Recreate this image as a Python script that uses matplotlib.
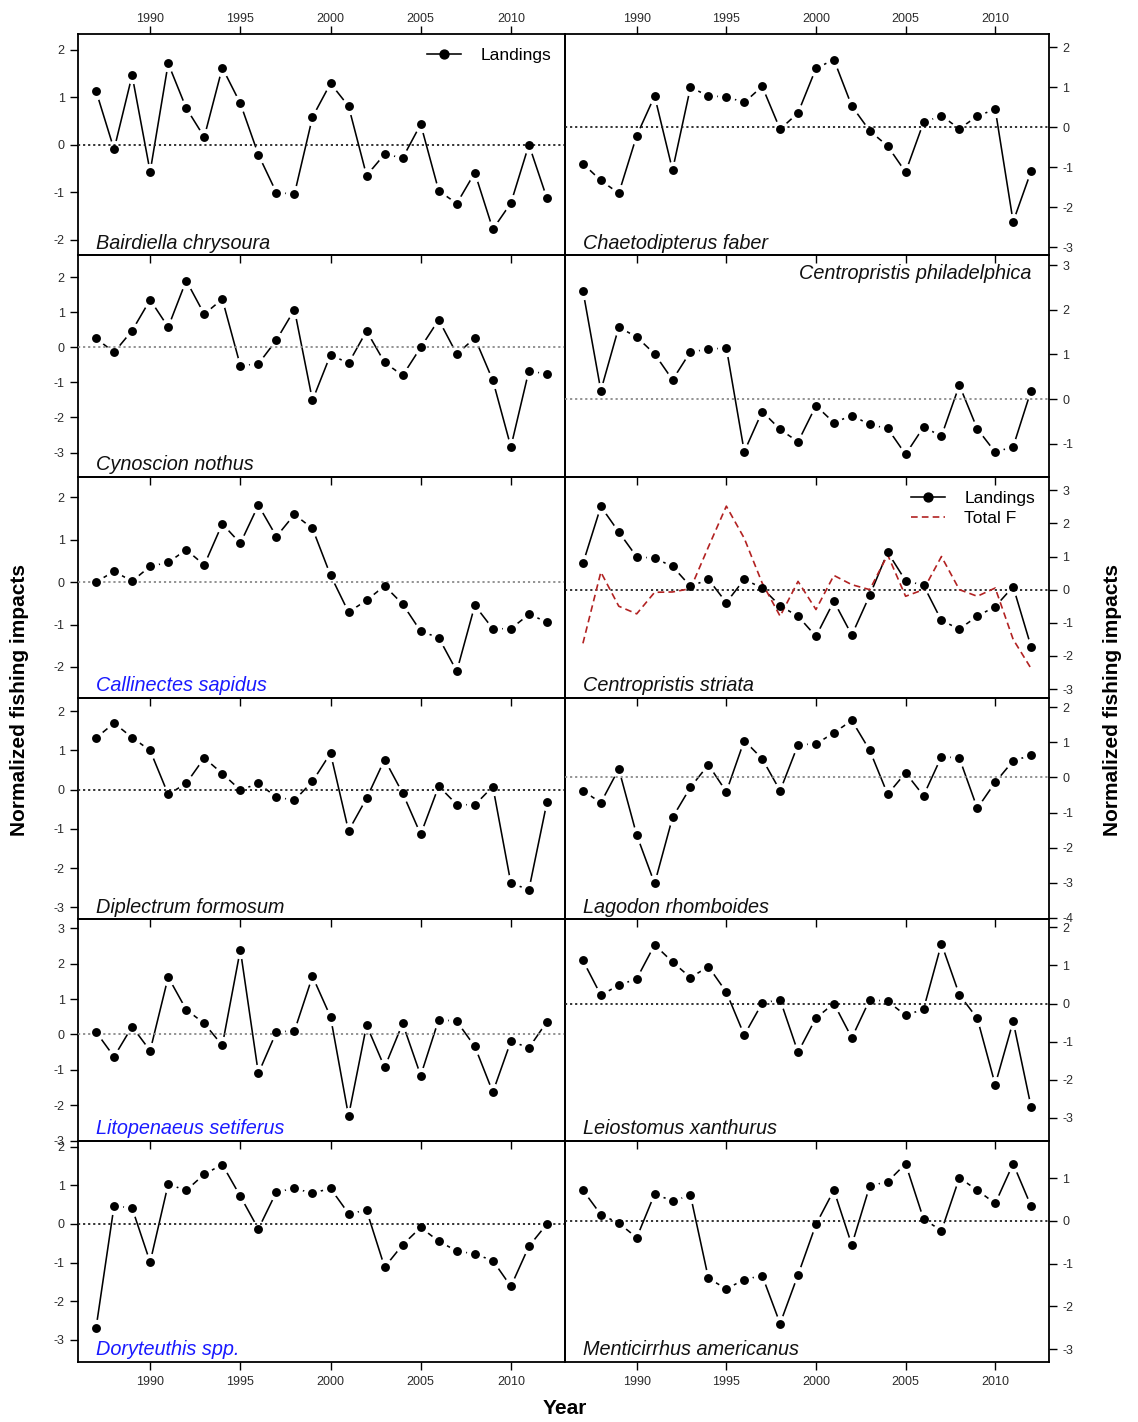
import numpy as np
import matplotlib
matplotlib.use("Agg")
import matplotlib.pyplot as plt
from matplotlib.lines import Line2D

plt.rcParams['font.family'] = ['Liberation Sans', 'DejaVu Sans']
plt.rcParams['axes.unicode_minus'] = False

# ---- data -------------------------------------------------------------
years = np.arange(1987, 2013)
year_ticks = [1990, 1995, 2000, 2005, 2010]

bairdiella = [1.13, -0.10, 1.46, -0.57, 1.71, 0.77, 0.16, 1.62, 0.87, -0.21,
              -1.01, -1.04, 0.58, 1.29, 0.81, -0.65, -0.20, -0.28, 0.43, -0.97,
              -1.24, -0.59, -1.78, -1.23, 0.00, -1.13]
chaetodipterus = [-0.91, -1.33, -1.65, -0.21, 0.78, -1.07, 1.00, 0.78, 0.76, 0.62,
                  1.02, -0.05, 0.36, 1.47, 1.69, 0.53, -0.09, -0.47, -1.12, 0.12,
                  0.29, -0.04, 0.28, 0.45, -2.36, -1.10]
cynoscion = [0.26, -0.14, 0.48, 1.36, 0.58, 1.91, 0.95, 1.38, -0.52, -0.47,
             0.21, 1.08, -1.51, -0.21, -0.45, 0.47, -0.43, -0.80, 0.00, 0.79,
             -0.19, 0.27, -0.94, -2.84, -0.66, -0.77]
philadelphica = [2.43, 0.19, 1.61, 1.39, 1.01, 0.43, 1.06, 1.11, 1.15, -1.18,
                 -0.28, -0.68, -0.96, -0.15, -0.53, -0.37, -0.57, -0.66, -1.24, -0.63,
                 -0.83, 0.31, -0.67, -1.19, -1.07, 0.19]
callinectes = [0.00, 0.25, 0.02, 0.37, 0.46, 0.76, 0.40, 1.37, 0.91, 1.81,
               1.07, 1.59, 1.26, 0.16, -0.71, -0.43, -0.09, -0.52, -1.16, -1.31,
               -2.10, -0.55, -1.10, -1.10, -0.76, -0.94]
striata = [0.79, 2.51, 1.74, 0.99, 0.95, 0.70, 0.10, 0.31, -0.39, 0.31,
           0.05, -0.49, -0.80, -1.41, -0.35, -1.37, -0.17, 1.13, 0.27, 0.13,
           -0.93, -1.19, -0.80, -0.51, 0.09, -1.72]
striata_total_f = [-1.62, 0.53, -0.50, -0.73, -0.08, -0.07, 0.03, 1.29, 2.52, 1.55,
                   0.20, -0.80, 0.25, -0.60, 0.43, 0.15, 0.00, 1.05, -0.20, 0.00,
                   1.00, 0.00, -0.20, 0.05, -1.50, -2.38]
diplectrum = [1.32, 1.70, 1.33, 1.00, -0.12, 0.16, 0.81, 0.41, -0.01, 0.16,
              -0.19, -0.27, 0.21, 0.93, -1.05, -0.22, 0.77, -0.09, -1.14, 0.09,
              -0.38, -0.39, 0.08, -2.39, -2.55, -0.32]
lagodon = [-0.38, -0.72, 0.24, -1.64, -3.02, -1.14, -0.28, 0.36, -0.41, 1.05,
           0.53, -0.38, 0.93, 0.95, 1.27, 1.62, 0.77, -0.48, 0.13, -0.52,
           0.59, 0.55, -0.88, -0.14, 0.47, 0.63]
litopenaeus = [0.07, -0.63, 0.22, -0.46, 1.62, 0.70, 0.31, -0.31, 2.39, -1.10,
               0.07, 0.10, 1.64, 0.50, -2.30, 0.26, -0.93, 0.31, -1.16, 0.42,
               0.37, -0.34, -1.63, -0.19, -0.38, 0.36]
leiostomus = [1.13, 0.22, 0.48, 0.65, 1.54, 1.09, 0.68, 0.97, 0.30, -0.83,
              0.01, 0.10, -1.28, -0.38, 0.00, -0.90, 0.10, 0.06, -0.31, -0.15,
              1.57, 0.23, -0.39, -2.13, -0.47, -2.71]
doryteuthis = [-2.70, 0.47, 0.41, -0.99, 1.03, 0.87, 1.29, 1.54, 0.72, -0.13,
               0.83, 0.92, 0.80, 0.92, 0.27, 0.35, -1.12, -0.54, -0.09, -0.45,
               -0.70, -0.78, -0.95, -1.62, -0.58, 0.00]
menticirrhus = [0.72, 0.15, -0.05, -0.39, 0.63, 0.47, 0.60, -1.34, -1.59, -1.37,
                -1.28, -2.40, -1.26, -0.08, 0.72, -0.56, 0.82, 0.92, 1.34, 0.05,
                -0.23, 1.01, 0.72, 0.41, 1.34, 0.35]

species = ["Bairdiella chrysoura", "Chaetodipterus faber",
           "Cynoscion nothus", "Centropristis philadelphica",
           "Callinectes sapidus", "Centropristis striata",
           "Diplectrum formosum", "Lagodon rhomboides",
           "Litopenaeus setiferus", "Leiostomus xanthurus",
           "Doryteuthis spp.", "Menticirrhus americanus"]
landings = [bairdiella, chaetodipterus, cynoscion, philadelphica,
            callinectes, striata, diplectrum, lagodon,
            litopenaeus, leiostomus, doryteuthis, menticirrhus]
y_limits = [(-2.33, 2.33), (-3.2, 2.33), (-3.69, 2.63), (-1.74, 3.22),
            (-2.73, 2.48), (-3.27, 3.41), (-3.31, 2.34), (-4.04, 2.26),
            (-3.0, 3.25), (-3.6, 2.21), (-3.58, 2.16), (-3.3, 1.88)]
invertebrates = {"Callinectes sapidus", "Litopenaeus setiferus", "Doryteuthis spp."}
faint_zero = {2, 3, 4, 7, 8}

# ---- layout -----------------------------------------------------------
W, H = 1138, 1422
fig = plt.figure(figsize=(W / 100, H / 100), dpi=100, facecolor="white")

x_left, x_mid, x_right = 78, 565, 1049
y_top, y_bot = 34, 1362
row_h = (y_bot - y_top) / 6

BLACK = "black"
RED = "#b22222"
BLUE = "#1a1aff"
TICK_COLOR = "#2b2b2b"


def draw_series(ax, vals):
    ax.plot(years, vals, color=BLACK, lw=1.15, zorder=2)
    # white halo opens a gap in the line around each point
    ax.plot(years, vals, ls="none", marker="o", ms=12.5, mfc="white",
            mec="none", zorder=3)
    ax.plot(years, vals, ls="none", marker="o", ms=6.4, mfc=BLACK,
            mec="none", zorder=5)


for i, (name, vals, ylim) in enumerate(zip(species, landings, y_limits)):
    row, col = divmod(i, 2)
    x0 = x_left if col == 0 else x_mid
    x1 = x_mid if col == 0 else x_right
    top = y_top + row * row_h
    ax = fig.add_axes([x0 / W, 1 - (top + row_h) / H, (x1 - x0) / W, row_h / H])
    ax.set_facecolor("none")

    draw_series(ax, vals)
    zc = "#8a8a8a" if i in faint_zero else "#222222"
    ax.axhline(0, color=zc, ls=(0, (1.2, 1.6)), lw=1.3, zorder=4)

    if name == "Centropristis striata":
        ax.plot(years, striata_total_f, color=RED, ls=(0, (4, 2.5)), lw=1.2, zorder=4)

    ax.set_xlim(1986, 2013)
    ax.set_ylim(*ylim)
    lo = int(np.ceil(ylim[0] - 1e-9))
    hi = int(np.floor(ylim[1] + 1e-9))
    ax.set_yticks(range(lo, hi + 1))
    ax.set_xticks(year_ticks)

    for sp in ax.spines.values():
        sp.set_linewidth(1.3)

    ax.tick_params(axis="both", direction="out", length=6, width=1.0,
                   labelsize=9, labelcolor=TICK_COLOR)
    if col == 0:
        ax.yaxis.tick_left()
    else:
        ax.yaxis.tick_right()

    if row == 0:
        ax.tick_params(axis="x", top=True, bottom=True, labeltop=True,
                       labelbottom=False, pad=0.5)
    elif row == 5:
        ax.tick_params(axis="x", top=False, bottom=True, labelbottom=True, pad=4)
    else:
        ax.tick_params(axis="x", top=False, bottom=True, labelbottom=False)

    color = BLUE if name in invertebrates else "#111111"
    if name == "Centropristis philadelphica":
        ax.text(0.963, 0.895, name, transform=ax.transAxes, ha="right",
                va="baseline", fontsize=14.3, style="italic", color=color, zorder=6)
    else:
        ax.text(0.037, 0.03, name, transform=ax.transAxes, ha="left",
                va="baseline", fontsize=14.3, style="italic", color=color, zorder=6)

    if i == 0:
        h = [Line2D([], [], color=BLACK, lw=1.15, marker="o", ms=6.4)]
        ax.legend(h, ["Landings"], loc="upper right", frameon=False,
                  fontsize=12.5, handlelength=2.0, handletextpad=1.1,
                  borderaxespad=0.1, borderpad=0.7)
    if name == "Centropristis striata":
        h = [Line2D([], [], color=BLACK, lw=1.15, marker="o", ms=6.4),
             Line2D([], [], color=RED, lw=1.2, ls=(0, (4, 2.5)))]
        ax.legend(h, ["Landings", "Total F"], loc="upper right", frameon=False,
                  fontsize=12.5, handlelength=2.0, handletextpad=1.1,
                  borderaxespad=0.1, borderpad=0.7, labelspacing=0.3)

fig.text(20 / W, 0.508, "Normalized fishing impacts", rotation=90,
         ha="center", va="center", fontsize=15, fontweight="bold")
fig.text(1113 / W, 0.508, "Normalized fishing impacts", rotation=90,
         ha="center", va="center", fontsize=15, fontweight="bold")
fig.text(565 / W, 1 - 1408 / H, "Year", ha="center", va="center",
         fontsize=15, fontweight="bold")

fig.savefig("out.png", dpi=100, facecolor="white")
